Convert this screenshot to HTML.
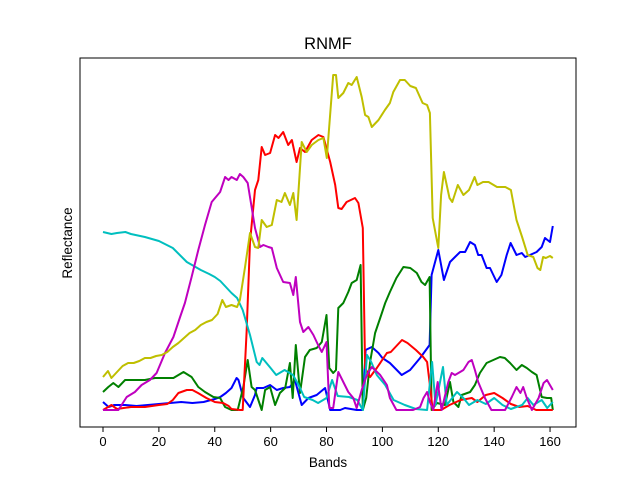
<!DOCTYPE html>
<html><head><meta charset="utf-8"><style>
body{margin:0;background:#fff;}
svg{display:block;font-family:"Liberation Sans","DejaVu Sans",sans-serif;}
</style></head><body>
<svg id="chart" width="640" height="480" viewBox="0 0 640 480">
<rect width="640" height="480" fill="#fff"/>
<text x="328" y="49" text-anchor="middle" font-size="16.5">RNMF</text>
<g id="plot"></g>
<rect x="80" y="58" width="496" height="369" fill="none" stroke="#000" stroke-width="1"/>
<g id="xticks"></g>
<text x="328" y="467" text-anchor="middle" font-size="13.5">Bands</text>
<text transform="translate(72,243) rotate(-90)" text-anchor="middle" font-size="13.5">Reflectance</text>
</svg>
<script>
const xTicks=[0,20,40,60,80,100,120,140,160];
const blueBands=[0,2,4,8,12,16,20,24,28,32,36,40,42,44,46,47.8,48.5,50.2,52.6,54.4,55,57.4,59.8,62.2,64.5,66.9,68.7,71.1,73.5,76.5,79.5,81.3,84.9,86.6,90.8,93,94,96.2,98.6,100,102.7,106.9,109.9,113.5,116.9,117.6,120,122,124.2,126,127.8,129.6,131.4,133.1,134.3,135.5,137.3,138.5,140.9,142.6,144.5,145.9,148,149.9,151.1,152.8,155.2,157,158.2,160,161];
const blueVals=[8,3,5,5,4,5,6,7,8,7,8,11,13,17,22,32,30,12,3,15,22,22,25,20,22,23,30,5,12,15,22,0,0,2,0,0,60,63,57,52,47,35,40,52,65,135,160,130,148,153,158,158,168,165,155,155,142,142,128,135,155,167,155,157,153,155,158,163,172,168,184];
const greenBands=[0,1.9,3.7,5.5,7.9,11.4,15,18.6,22.2,25.2,28.8,31.7,34.1,36.5,39.5,41.9,43.7,46,48.2,50.2,51.8,53.2,54.4,56.8,58,59.8,61.6,63.3,65.2,66.9,67.9,69,70.5,72.3,74,76.5,78.3,80,81,82.4,83.4,84.2,86,87.8,89,90.8,92.2,93,94.2,95.6,97.4,99.2,101,102.7,105,107.5,110,112.3,114,115.3,116.9,117.6,119.5,122.4,124.2,125.4,127.2,128.4,131.4,133.1,134.9,137.3,139.7,142.1,143.8,145.7,148,149.9,151.7,153.5,155.2,157,158.9,160.4,161];
const greenVals=[18,23,27,23,30,30,30,32,32,32,38,33,23,18,13,12,3,0,0,23,50,23,20,0,20,23,5,17,22,47,12,65,17,53,60,62,68,95,42,37,40,102,107,118,127,130,145,0,12,48,77,92,107,118,132,143,142,137,128,125,133,0,7,5,28,8,3,15,18,25,37,47,50,53,52,47,40,45,42,38,35,13,12,12,0];
const redBands=[0,3,5,10,15,20,23,25,27,30,32,34,37,40,43,45,46,49,50,51.4,52.6,54.4,55.6,56.8,58,59.8,61.6,62.8,64.5,66.3,67.6,69.3,70.5,72.3,74.7,77.1,78.9,81.3,83.1,84.2,85.4,87.2,90.2,91.4,93,93.8,95.6,98,101.6,103,107,109,112,114.6,116,117,118,121,124,128,132,134,137,140,143,146,149,152,155,161];
const redVals=[0,5,1,3,3,5,6,10,17,20,20,17,12,8,7,4,1,0,0,78,168,220,230,263,255,257,275,272,278,265,270,248,262,258,270,275,273,248,225,202,201,208,212,207,182,42,33,42,57,58,70,67,60,53,48,25,0,0,5,10,12,8,15,17,12,6,3,4,0,0];
const cyanBands=[0,3,5,8,10,15,20,25,30,35,38,40,42,44,46,48,50,52.6,55,56,57,60,62,65,68,70,72,75,77,80,82,84,88,91,93,94.5,96,98,101,103,104,108,112,116,117.8,119,121.7,123,126.7,129,131,134,137,140,143,146,150,152,154,157,159,161];
const cyanVals=[178,176,177,178,176,173,169,162,148,140,136,133,129,123,117,112,100,75,48,45,52,42,35,40,35,25,13,10,7,12,30,14,13,10,0,55,48,35,25,15,10,5,1,0,48,5,43,5,18,12,5,10,6,12,5,1,5,12,5,10,2,8];
const magentaBands=[0,5.5,8.5,11.4,13.8,16.8,19.2,22.2,25.2,27.6,29.3,31.7,34.1,36.5,38.9,41.9,43.7,44.9,46,47.9,49,50.2,51.8,53.2,54.4,56.2,57.4,59.2,60.4,62.2,64.5,66.9,68.1,69,70.5,71.7,73.5,75.3,77,78.3,80,81,82.4,84.2,86,87.8,89.6,90.8,92.6,94.4,96.2,99.2,101.6,102.7,105,111,113.5,114.7,116,117,118.2,119.8,121.2,123.6,124.8,126,127.8,129,130.8,132,133.1,134.3,136.7,139,143.9,146.3,148,149.4,150.4,151.7,153.5,155.9,157.7,158.9,161];
const magentaVals=[0,0,13,18,25,30,37,57,73,93,107,133,160,185,208,218,233,230,233,230,236,233,227,203,182,163,165,163,162,142,128,127,115,133,88,78,83,75,65,58,68,2,2,38,28,18,12,2,20,35,43,35,25,12,0,0,3,12,18,8,0,28,0,28,37,35,38,40,48,50,40,28,12,0,0,13,23,17,23,12,0,12,27,30,20];
const yellowBands=[0,1.8,3,5,7,9,11,13,15,17,19,21,23,25,27,29,31,33,35,37,39,41,42.7,44,46,48,49,50.8,52.6,54.4,55.6,56.8,58.6,60.4,62.2,63.9,65.1,66.9,68.1,69.3,71.1,72.9,74.7,77.1,78.9,80.1,82.4,83.4,84.2,86,87.8,89,90.8,92.6,93.8,95,96.2,98.6,100.9,102.7,103.9,106.3,108,110,112,114.4,116,117,118,120,121,122,124,125,127,129,131,133,134,136,138,141,144,146,148,150,152,154,155.5,156.5,157.5,158.5,160,161];
const yellowVals=[33,39,32,38,44,47,47,49,52,52,54,55,58,63,67,72,77,80,85,88,90,96,110,103,105,103,110,142,177,163,162,190,183,185,210,208,217,205,217,190,268,258,265,270,272,252,335,335,312,317,327,325,333,313,295,293,283,290,300,307,318,330,330,324,322,307,305,297,192,162,215,238,212,208,225,215,220,233,225,228,228,223,223,220,190,173,155,153,142,140,153,152,154,152];

const NS="http://www.w3.org/2000/svg";
function xs(b){return 103+b*2.794;}
function ys(v){return 410-v;}
const plot=document.getElementById('plot');
const series=[
 ['blue-series','#0000ff',blueBands,blueVals],
 ['green-series','#008000',greenBands,greenVals],
 ['red-series','#ff0000',redBands,redVals],
 ['cyan-series','#00bfbf',cyanBands,cyanVals],
 ['magenta-series','#bf00bf',magentaBands,magentaVals],
 ['yellow-series','#bfbf00',yellowBands,yellowVals]
];
series.forEach(s=>{
  const p=document.createElementNS(NS,'polyline');
  p.setAttribute('points',s[2].map((b,i)=>xs(b).toFixed(1)+','+ys(s[3][i]).toFixed(1)).join(' '));
  p.setAttribute('fill','none');
  p.setAttribute('stroke',s[1]);
  p.setAttribute('stroke-width','2');
  p.setAttribute('stroke-linejoin','round');
  
  
  plot.appendChild(p);
});
const xt=document.getElementById('xticks');
xTicks.forEach(t=>{
  const l=document.createElementNS(NS,'line');
  l.setAttribute('x1',xs(t));l.setAttribute('x2',xs(t));
  l.setAttribute('y1',427);l.setAttribute('y2',432);
  l.setAttribute('stroke','#000');
  
  
  xt.appendChild(l);
  const tx=document.createElementNS(NS,'text');
  tx.setAttribute('x',xs(t));tx.setAttribute('y',446);
  tx.setAttribute('text-anchor','middle');tx.setAttribute('font-size','13');
  tx.textContent=t;
  
  
  xt.appendChild(tx);
});
</script>
</body></html>
